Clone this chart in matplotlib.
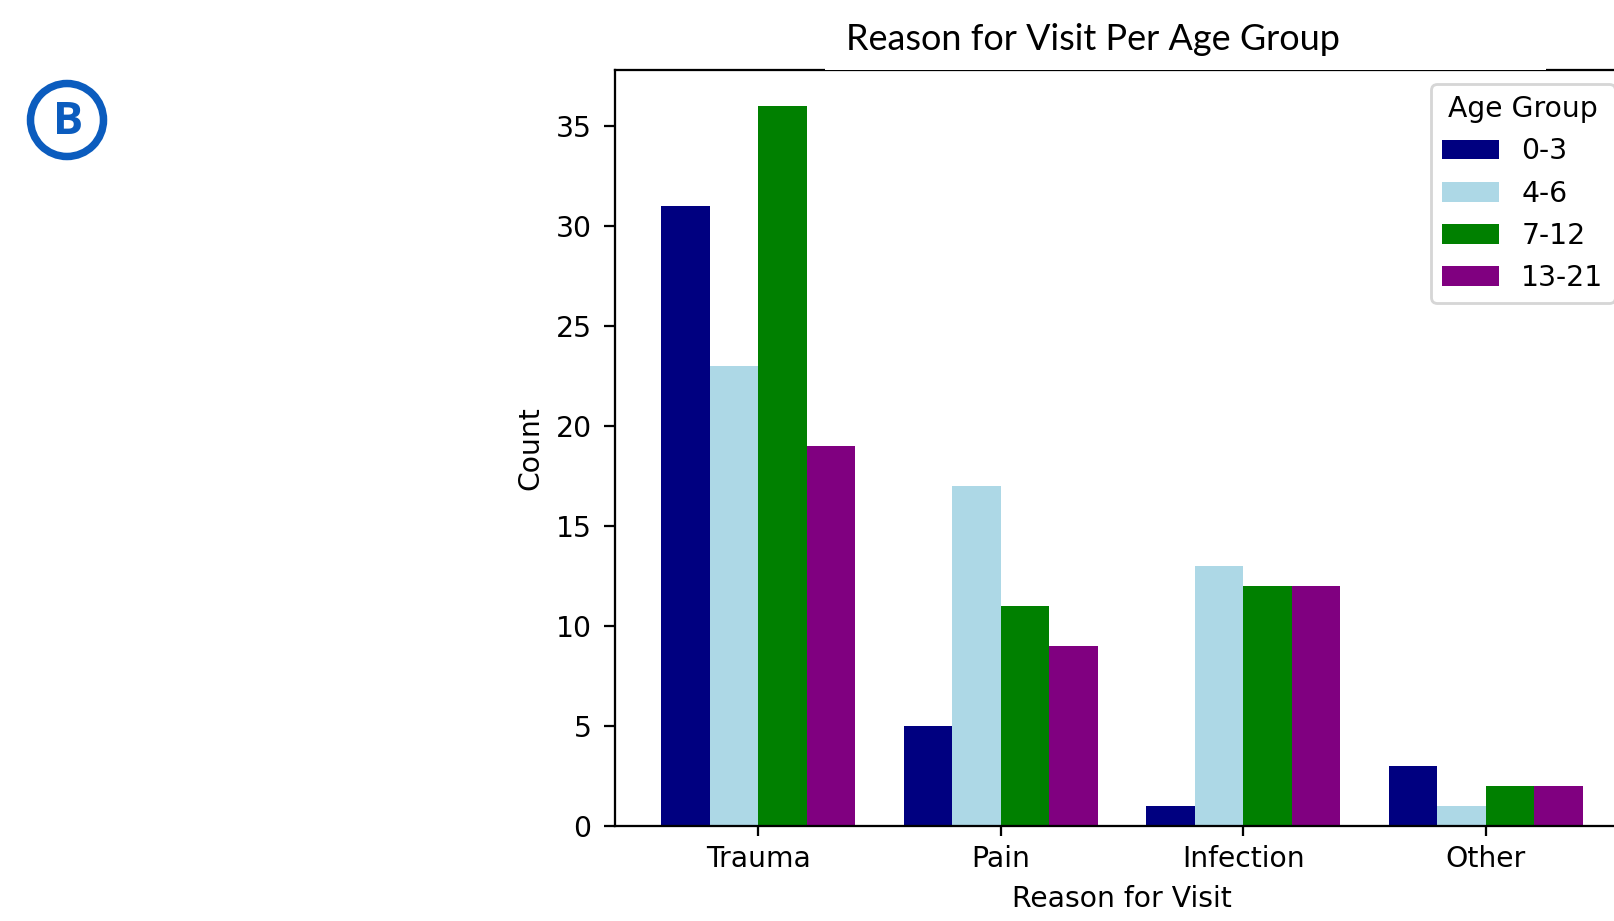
import matplotlib
matplotlib.use("Agg")
import matplotlib.pyplot as plt
from matplotlib.patches import Rectangle, Ellipse
import numpy as np

reasons = ["Trauma", "Pain", "Infection", "Other"]
age_groups = ["0-3", "4-6", "7-12", "13-21"]
counts_0_3 = [31, 5, 1, 3]
counts_4_6 = [23, 17, 13, 1]
counts_7_12 = [36, 11, 12, 2]
counts_13_21 = [19, 9, 12, 2]
bar_colors = ["navy", "lightblue", "green", "purple"]

W, H, DPI = 1614, 921, 203
fig = plt.figure(figsize=(W / DPI, H / DPI), dpi=DPI)

# axes run past the right edge of the picture, like the cropped slide
ax = fig.add_axes([615 / W, 1 - 825.7 / H, 1014 / W, 755.7 / H])

x = np.arange(len(reasons))
width = 0.2
series = [counts_0_3, counts_4_6, counts_7_12, counts_13_21]
for i, (vals, grp, col) in enumerate(zip(series, age_groups, bar_colors)):
    ax.bar(x + (i - 1.5) * width, vals, width, label=grp, color=col)

ax.set_xticks(x)
ax.set_xticklabels(reasons)
ax.tick_params(axis="y", length=4, pad=4.3)
ax.set_xlabel("Reason for Visit")
ax.set_ylabel("Count")
ax.legend(title="Age Group", loc="upper right")

# white slide text box over the top spine, with the title in it
fig.patches.append(Rectangle((825 / W, 1 - 70 / H), (1546 - 825) / W, 70 / H,
                             transform=fig.transFigure, facecolor="white",
                             edgecolor="none", zorder=5))
title = fig.text(846 / W, 1 - 50 / H, "Reason for Visit Per Age Group",
                 family="Lato", fontsize=20, ha="left", va="baseline", zorder=6)
fig.canvas.draw()
tw = title.get_window_extent().width
title.set_fontsize(20 * 494 / tw)

# circled "B" panel marker
blue = "#0B5CBE"
fig.patches.append(Ellipse((67 / W, 1 - 120 / H), 73 / W, 73 / H,
                           transform=fig.transFigure, facecolor="none",
                           edgecolor=blue, linewidth=7.5 * 72 / DPI, zorder=5))
fig.text(68 / W, 1 - 122 / H, "B", color=blue, fontsize=16, fontweight="bold",
         family="Open Sans", ha="center", va="center", zorder=6)

fig.savefig("out.png", dpi=DPI)
